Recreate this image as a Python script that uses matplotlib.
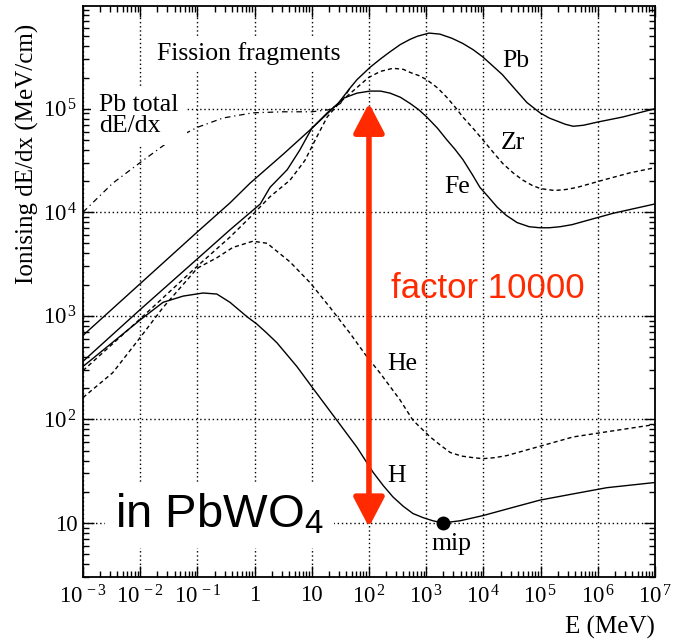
import matplotlib
matplotlib.use('Agg')
import matplotlib.pyplot as plt
import numpy as np
from matplotlib.ticker import LogLocator, NullFormatter

plt.rcParams['font.family'] = ['Liberation Serif', 'DejaVu Serif']
plt.rcParams['mathtext.fontset'] = 'custom'
plt.rcParams['mathtext.rm'] = 'Liberation Serif'
plt.rcParams['mathtext.sf'] = 'Liberation Sans'
plt.rcParams['mathtext.it'] = 'Liberation Serif:italic'

# values: log10(E / MeV) and log10(dE/dx / MeV/cm)
fe_lge = [-3.0, -2.0, -1.0, -0.43, -0.08, 0.5, 1.0, 1.46, 1.55, 1.79, 2.02, 2.2, 2.37, 2.55,
          2.72, 2.87, 3.01, 3.2, 3.36, 3.5, 3.64, 3.8, 3.94, 4.1, 4.24, 4.4, 4.59, 4.8, 4.99,
          5.15, 5.34, 5.55, 5.81, 6.27, 7.0]
fe_lgy = [2.81, 3.31, 3.81, 4.09, 4.28, 4.56, 4.81, 5.05, 5.10, 5.15, 5.17, 5.17, 5.15, 5.11,
          5.05, 4.99, 4.92, 4.81, 4.70, 4.61, 4.51, 4.37, 4.24, 4.14, 4.05, 3.97, 3.90, 3.86, 3.85,
          3.85, 3.86, 3.88, 3.92, 3.99, 4.08]

pb_lge = [-3.0, -2.0, -1.0, -0.43, 0.1, 0.27, 0.57, 0.79, 1.0, 1.27, 1.46, 1.67, 1.79, 2.02,
          2.2, 2.37, 2.55, 2.72, 2.85, 3.05, 3.24, 3.45, 3.64, 3.82, 3.99, 4.15, 4.33, 4.52,
          4.76, 4.99, 5.15, 5.29, 5.43, 5.57, 5.75, 5.99, 6.44, 7.0]
pb_lgy = [2.56, 3.06, 3.55, 3.83, 4.08, 4.24, 4.41, 4.60, 4.81, 4.96, 5.05, 5.20, 5.28, 5.40,
          5.48, 5.55, 5.62, 5.67, 5.70, 5.73, 5.72, 5.68, 5.63, 5.57, 5.50, 5.42, 5.33, 5.21,
          5.06, 4.96, 4.91, 4.88, 4.85, 4.83, 4.84, 4.87, 4.92, 5.00]

zr_lge = [-3.0, -2.0, -1.0, -0.43, -0.08, 0.27, 0.62, 0.88, 1.09, 1.27, 1.49, 1.99, 2.2, 2.42,
          2.6, 2.72, 2.87, 3.01, 3.2, 3.36, 3.5, 3.64, 3.82, 3.99, 4.17, 4.34, 4.52, 4.69, 4.85,
          4.99, 5.1, 5.25, 5.45, 5.64, 6.09, 6.56, 7.0]
zr_lgy = [2.47, 2.97, 3.48, 3.76, 3.95, 4.15, 4.31, 4.50, 4.73, 4.92, 5.06, 5.30, 5.36, 5.39,
          5.38, 5.35, 5.32, 5.28, 5.20, 5.11, 5.02, 4.92, 4.81, 4.70, 4.58, 4.47, 4.38, 4.31, 4.26,
          4.23, 4.22, 4.21, 4.22, 4.24, 4.31, 4.38, 4.43]

h_lge = [-3.0, -2.0, -1.6, -1.25, -0.90, -0.66, -0.43, -0.13, 0.04, 0.2, 0.39, 0.74, 1.02,
         1.44, 1.79, 2.07, 2.25, 2.42, 2.6, 2.77, 2.95, 3.12, 3.29, 3.59, 3.99, 4.52, 4.99,
         5.57, 6.16, 7.0]
h_lgy = [2.51, 2.96, 3.13, 3.19, 3.22, 3.21, 3.13, 2.99, 2.92, 2.84, 2.74, 2.51, 2.30,
         1.99, 1.73, 1.49, 1.36, 1.25, 1.16, 1.09, 1.05, 1.02, 1.00, 1.02, 1.07, 1.15, 1.22,
         1.28, 1.34, 1.39]

he_lge = [-3.0, -2.48, -2.0, -1.6, -1.0, -0.66, -0.38, -0.03, 0.22, 0.62, 0.97, 1.32, 1.67,
          1.97, 2.19, 2.54, 2.77, 3.07, 3.25, 3.42, 3.62, 3.82, 3.99, 4.2, 4.41, 4.99, 5.57,
          6.16, 7.0]
he_lgy = [2.21, 2.45, 2.79, 3.08, 3.46, 3.56, 3.66, 3.72, 3.70, 3.52, 3.32, 3.08, 2.83,
          2.60, 2.45, 2.19, 1.99, 1.83, 1.75, 1.68, 1.645, 1.63, 1.62, 1.63, 1.65, 1.74, 1.83,
          1.88, 1.95]

pbtot_lge = [-3.0, -2.48, -2.0, -1.53, -1.0, -0.55, -0.03, 0.5, 1.0, 1.3, 1.5, 1.67]
pbtot_lgy = [4.0, 4.28, 4.48, 4.67, 4.82, 4.91, 4.96, 4.97, 4.97, 4.99, 5.05, 5.20]

mip_e, mip_y = 1950, 10
arrow_e, arrow_lo, arrow_hi = 100, 9.1, 1.13e5

xdec = [-3, -2, -1, 0, 1, 2, 3, 4, 5, 6, 7]
ydec = [1, 2, 3, 4, 5]


def lab(k):
    if k == 0:
        return '1'
    if k == 1:
        return '10'
    return r'$10^{\,%d}$' % k


def p(v):
    return 10 ** np.array(v)


fig = plt.figure(figsize=(6.79, 6.42), dpi=100)
ax = fig.add_axes([0.1222, 0.1012, 0.8424, 0.8894])
ax.set_xscale('log')
ax.set_yscale('log')
ax.set_xlim(1e-3, 1e7)
ax.set_ylim(3, 9.8e5)

dash = (0, (3, 2.2))
ax.plot(p(fe_lge), p(fe_lgy), color='black', lw=1.0)
ax.plot(p(pb_lge), p(pb_lgy), color='black', lw=1.0)
ax.plot(p(zr_lge), p(zr_lgy), color='black', lw=1.0, ls=dash)
ax.plot(p(h_lge), p(h_lgy), color='black', lw=1.0)
ax.plot(p(he_lge), p(he_lgy), color='black', lw=1.0, ls=dash)
ax.plot(p(pbtot_lge), p(pbtot_lgy), color='black', lw=0.9, ls=(0, (4.5, 3, 1, 3)))
ax.plot(mip_e, mip_y, 'o', color='black', ms=9, zorder=4)

ax.set_xticks([10.0 ** k for k in xdec])
ax.set_xticklabels([lab(k) for k in xdec])
ax.set_yticks([10.0 ** k for k in ydec])
ax.set_yticklabels([lab(k) for k in ydec])
ax.xaxis.set_minor_locator(LogLocator(base=10, subs=np.arange(2, 10), numticks=100))
ax.yaxis.set_minor_locator(LogLocator(base=10, subs=np.arange(2, 10), numticks=100))
ax.xaxis.set_minor_formatter(NullFormatter())
ax.yaxis.set_minor_formatter(NullFormatter())
ax.tick_params(which='both', direction='in', top=True, right=True, labelsize=16.5)
ax.tick_params(which='major', length=8, width=1)
ax.tick_params(which='minor', length=4, width=1)
ax.tick_params(axis='x', pad=6)
ax.tick_params(axis='y', pad=4)
ax.grid(True, which='major', axis='both', ls=(0, (1, 2)), color='black', lw=1.0)
for s in ax.spines.values():
    s.set_linewidth(1.3)

white = dict(fc='white', ec='none', pad=4)
ax.text(10 ** -1.706, 10 ** 5.471, 'Fission fragments', fontsize=18.5, bbox=white)
ax.text(10 ** -2.72, 10 ** 4.775, 'Pb total\ndE/dx', fontsize=18.5, linespacing=0.95,
        bbox=dict(fc='white', ec='none', pad=6))
ax.text(10 ** 4.325, 10 ** 5.403, 'Pb', fontsize=18.5)
ax.text(10 ** 4.31, 10 ** 4.611, 'Zr', fontsize=18.5)
ax.text(10 ** 3.311, 10 ** 4.186, 'Fe', fontsize=18.5)
ax.text(10 ** 2.315, 10 ** 2.475, 'He', fontsize=18.5)
ax.text(10 ** 2.315, 10 ** 1.393, 'H', fontsize=18.5)
ax.text(10 ** 3.10, 10 ** 0.736, 'mip', fontsize=18.5)
ax.text(10 ** -2.44, 10 ** 0.949, r'in PbWO$_\mathsf{4}$', fontsize=34,
        family='Liberation Sans', bbox=dict(fc='white', ec='none', pad=7))

red = '#ff2a00'
ax.annotate('', xy=(arrow_e, arrow_hi), xytext=(arrow_e, arrow_lo),
            arrowprops=dict(arrowstyle='<|-|>,head_length=0.9,head_width=0.47',
                            color=red, lw=4, mutation_scale=20, shrinkA=0, shrinkB=0),
            zorder=5)
ax.text(10 ** 2.385, 10 ** 3.171, 'factor 10000', color=red, fontsize=25,
        family='Liberation Sans')

fig.text(0.040, 0.761, 'Ionising dE/dx (MeV/cm)', rotation=90, ha='center', va='center',
         fontsize=18)
fig.text(0.9647, 0.0234, 'E (MeV)', ha='right', va='center', fontsize=18)

fig.savefig('out.png', dpi=100)
